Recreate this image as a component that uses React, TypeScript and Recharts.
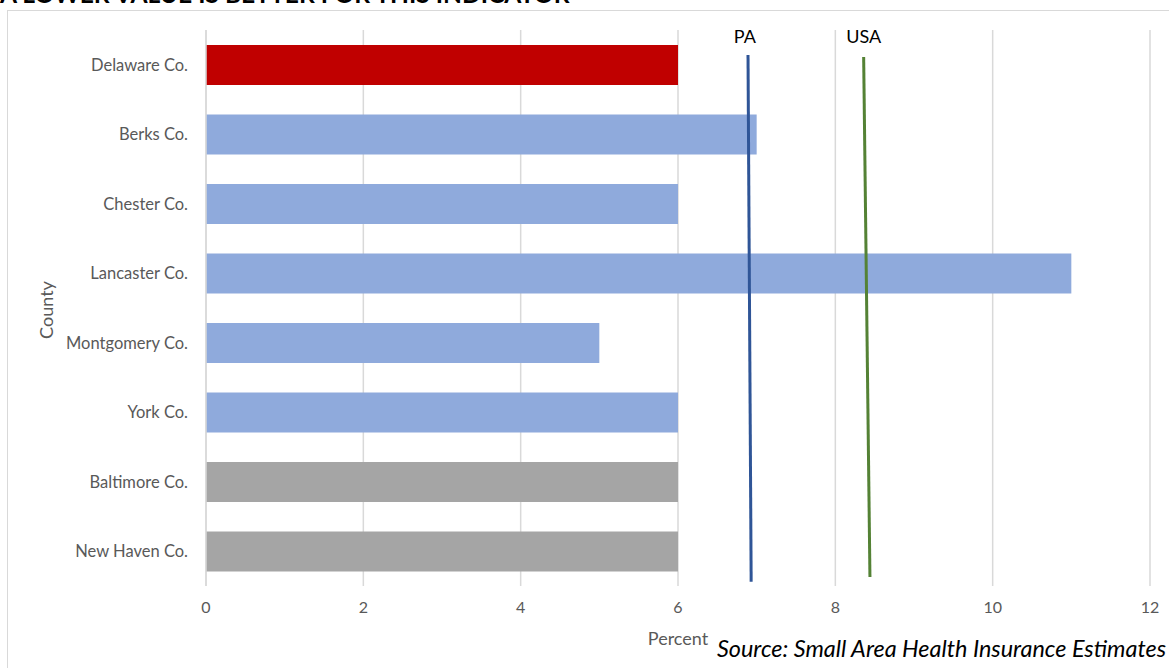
import React from 'react';
import { BarChart, Bar, XAxis, YAxis, CartesianGrid, ReferenceLine, ReferenceDot, Cell } from 'recharts';

const counties = ['Delaware Co.', 'Berks Co.', 'Chester Co.', 'Lancaster Co.', 'Montgomery Co.', 'York Co.', 'Baltimore Co.', 'New Haven Co.'];
const uninsuredPct = [6, 7, 6, 11, 5, 6, 6, 6];
const groups = ['focus', 'pa', 'pa', 'pa', 'pa', 'pa', 'peer', 'peer'];
const xTicks = [0, 2, 4, 6, 8, 10, 12];

// Benchmark lines (slightly slanted in the original): [top, bottom] x-values
const paValues = [6.89, 6.93];
const usaValues = [8.36, 8.44];
// Vertical extent of the benchmark lines in category-index units (0 = first bar)
const paSpan = [-0.14, 7.44];
const usaSpan = [-0.11, 7.37];
const labelRow = -0.4;
const paLabelX = 6.85;
const usaLabelX = 8.36;

const groupColors: Record<string, string> = { focus: '#c00000', pa: '#8faadc', peer: '#a5a5a5' };

const data = counties.map((c, i) => ({ county: c, value: uninsuredPct[i], group: groups[i], idx: i }));

const FONT = 'Lato, "Open Sans", sans-serif';

export default function App() {
  return (
    <div style={{ position: 'absolute', left: 0, top: 0, width: 1169, height: 668, overflow: 'hidden', background: '#fff', fontFamily: FONT }}>
      <div style={{ position: 'absolute', left: 7, top: 10, width: 1200, height: 700, border: '1px solid #d9d9d9', boxSizing: 'border-box' }} />
      <div style={{ position: 'absolute', left: 0, top: -18, fontSize: 24.6, lineHeight: '24px', fontWeight: 700, color: '#000', whiteSpace: 'nowrap' }}>
        A LOWER VALUE IS BETTER FOR THIS INDICATOR
      </div>
      <div style={{ position: 'absolute', left: 0, top: 0 }}>
        <BarChart
          width={1169}
          height={668}
          data={data}
          layout="vertical"
          margin={{ top: 30, right: 19, bottom: 40, left: 8 }}
        >
          <CartesianGrid horizontal={false} stroke="#d9d9d9" strokeWidth={1.5} />
          <XAxis
            type="number"
            domain={[0, 12]}
            ticks={xTicks}
            axisLine={false}
            tickLine={false}
            tickSize={0}
            tickMargin={16}
            height={42}
            tick={{ fill: '#595959', fontSize: 16, fontFamily: FONT }}
          />
          <YAxis
            type="category"
            dataKey="county"
            width={198}
            axisLine={{ stroke: '#d9d9d9', strokeWidth: 1.5 }}
            tickLine={false}
            tickSize={0}
            tickMargin={18}
            tick={{ fill: '#595959', fontSize: 16.5, fontFamily: FONT }}
          />
          <YAxis
            yAxisId="pos"
            type="number"
            dataKey="idx"
            domain={[-0.5, 7.5]}
            allowDataOverflow
            hide
          />
          <Bar dataKey="value" barSize={40} isAnimationActive={false}>
            {data.map((d, i) => (
              <Cell key={i} fill={groupColors[d.group]} />
            ))}
          </Bar>
          <ReferenceLine
            yAxisId="pos"
            ifOverflow="visible"
            segment={[{ x: paValues[0], y: paSpan[0] }, { x: paValues[1], y: paSpan[1] }]}
            stroke="#2f5597"
            strokeWidth={3}
          />
          <ReferenceLine
            yAxisId="pos"
            ifOverflow="visible"
            segment={[{ x: usaValues[0], y: usaSpan[0] }, { x: usaValues[1], y: usaSpan[1] }]}
            stroke="#548235"
            strokeWidth={3}
          />
          <ReferenceDot
            yAxisId="pos"
            ifOverflow="visible"
            x={paLabelX}
            y={labelRow}
            r={0}
            fill="none"
            stroke="none"
            label={{ value: 'PA', position: 'center', fill: '#000', fontSize: 18, fontFamily: FONT }}
          />
          <ReferenceDot
            yAxisId="pos"
            ifOverflow="visible"
            x={usaLabelX}
            y={labelRow}
            r={0}
            fill="none"
            stroke="none"
            label={{ value: 'USA', position: 'center', fill: '#000', fontSize: 18, fontFamily: FONT }}
          />
        </BarChart>
      </div>
      <div style={{ position: 'absolute', left: 46, top: 310, transform: 'translate(-50%, -50%) rotate(-90deg)', color: '#595959', fontSize: 18, whiteSpace: 'nowrap' }}>
        County
      </div>
      <div style={{ position: 'absolute', left: 678, top: 638, transform: 'translate(-50%, -50%)', color: '#595959', fontSize: 18, whiteSpace: 'nowrap' }}>
        Percent
      </div>
      <div style={{ position: 'absolute', right: 3, top: 634, color: '#000', fontSize: 23.4, lineHeight: '28px', fontStyle: 'italic', whiteSpace: 'nowrap' }}>
        Source: Small Area Health Insurance Estimates
      </div>
    </div>
  );
}
